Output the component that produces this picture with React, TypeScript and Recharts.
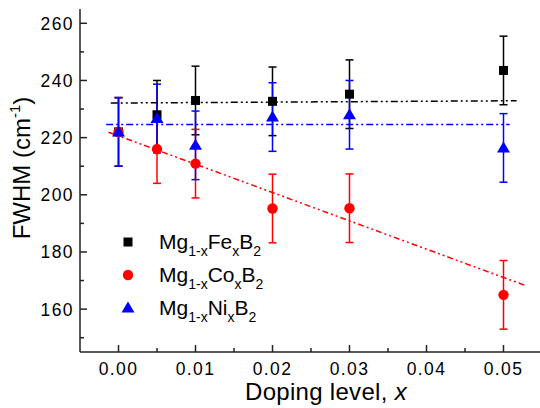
import React from 'react';
import {
  ComposedChart,
  Scatter,
  Line,
  XAxis,
  YAxis,
  ErrorBar,
  Legend,
} from 'recharts';

// doping level x and measured FWHM (cm^-1)
const doping = [0, 0.005, 0.01, 0.02, 0.03, 0.05];
const feFwhm = [222, 228, 233, 232.7, 235.2, 243.5];
const feErr = [12, 12, 12, 12, 12, 12];
const coFwhm = [222, 216, 210.9, 195.2, 195.3, 165];
const coErr = [12, 12, 12, 12, 12, 12];
const niFwhm = [222, 226.7, 217.3, 227.2, 228, 216.4];
const niErr = [12, 12, 12, 12, 12, 12];

// linear fits (end points)
const feFitX = [-0.001, 0.0517];
const feFitY = [232.1, 232.9];
const coFitX = [-0.0013, 0.0527];
const coFitY = [221.9, 168.4];
const niFitX = [-0.0016, 0.0508];
const niFitY = [224.6, 224.6];

const xTicks = [0, 0.005, 0.01, 0.015, 0.02, 0.025, 0.03, 0.035, 0.04, 0.045, 0.05, 0.055];
const yTicks = [150, 160, 170, 180, 190, 200, 210, 220, 230, 240, 250, 260];

const FONT = '"Liberation Sans", Arial, sans-serif';
const AXIS = '#222';
const BLACK = '#000000';
const RED = '#ff0000';
const BLUE = '#0000ff';

const toPoints = (xs: number[], ys: number[], es?: number[]) =>
  xs.map((x, i) => ({ x, y: ys[i], err: es ? es[i] : 0 }));

const feData = toPoints(doping, feFwhm, feErr);
const coData = toPoints(doping, coFwhm, coErr);
const niData = toPoints(doping, niFwhm, niErr);
const feFit = toPoints(feFitX, feFitY);
const coFit = toPoints(coFitX, coFitY);
const niFit = toPoints(niFitX, niFitY);

const isMajorX = (v: number) => Math.abs(v * 100 - Math.round(v * 100)) < 1e-6;
const isMajorY = (v: number) => v % 20 === 0;

const labelStyle = { fontFamily: FONT, fontSize: 17.5, letterSpacing: 1.4, fill: '#000' };

function BottomTick({ x, y, payload }: any) {
  const major = isMajorX(payload.value);
  return (
    <g>
      <line x1={x} y1={y} x2={x} y2={y - (major ? 7 : 4)} stroke={AXIS} strokeWidth={1.5} />
      {major && (
        <text x={x} y={y + 22.5} textAnchor="middle" {...labelStyle}>
          {payload.value.toFixed(2)}
        </text>
      )}
    </g>
  );
}

function TopTick({ x, y, payload }: any) {
  const major = isMajorX(payload.value);
  return <line x1={x} y1={y} x2={x} y2={y + (major ? 7 : 4)} stroke={AXIS} strokeWidth={1.5} />;
}

function LeftTick({ x, y, payload }: any) {
  const major = isMajorY(payload.value);
  return (
    <g>
      <line x1={x} y1={y} x2={x + (major ? 7 : 4)} y2={y} stroke={AXIS} strokeWidth={1.5} />
      {major && (
        <text x={x - 6} y={y + 6.5} textAnchor="end" {...labelStyle}>
          {payload.value}
        </text>
      )}
    </g>
  );
}

function RightTick({ x, y, payload }: any) {
  const major = isMajorY(payload.value);
  return <line x1={x} y1={y} x2={x - (major ? 7 : 4)} y2={y} stroke={AXIS} strokeWidth={1.5} />;
}

function XTitle() {
  return (
    <text x={245} y={400} fontFamily={FONT} fontSize={24} letterSpacing={0.3} fill="#000">
      Doping level, <tspan fontStyle="italic">x</tspan>
    </text>
  );
}

function YTitle() {
  return (
    <text
      transform="translate(30,168) rotate(-90)"
      textAnchor="middle"
      fontFamily={FONT}
      fontSize={24}
      fill="#000"
    >
      FWHM (cm<tspan dy={-10} fontSize={15}>-1</tspan>
      <tspan dy={10}>)</tspan>
    </text>
  );
}

const Square = ({ cx, cy }: any) => <rect x={cx - 4.5} y={cy - 4.5} width={9} height={9} fill={BLACK} />;
const Dot = ({ cx, cy }: any) => <circle cx={cx} cy={cy} r={5.2} fill={RED} />;
const Tri = ({ cx, cy }: any) => (
  <polygon points={`${cx},${cy - 6.5} ${cx - 6.5},${cy + 4.5} ${cx + 6.5},${cy + 4.5}`} fill={BLUE} />
);

function Formula({ y, metal }: { y: number; metal: string }) {
  return (
    <text x={49} y={y} fontFamily={FONT} fontSize={21} fill="#000">
      Mg<tspan fontSize={14} dy={7}>1-x</tspan>
      <tspan dy={-7}>{metal}</tspan>
      <tspan fontSize={14} dy={7}>x</tspan>
      <tspan dy={-7}>B</tspan>
      <tspan fontSize={14} dy={7}>2</tspan>
    </text>
  );
}

function LegendBox() {
  return (
    <svg width={180} height={110}>
      <rect x={13.5} y={15.5} width={9} height={9} fill={BLACK} />
      <Formula y={27} metal="Fe" />
      <circle cx={18} cy={53} r={5.2} fill={RED} />
      <Formula y={60} metal="Co" />
      <polygon points="18,79.5 11.5,90.5 24.5,90.5" fill={BLUE} />
      <Formula y={93} metal="Ni" />
    </svg>
  );
}

export default function App() {
  return (
    <div style={{ position: 'absolute', left: 0, top: 0, width: 540, height: 408, overflow: 'hidden', background: '#fff' }}>
      <ComposedChart width={560} height={408} margin={{ top: 9, right: 18, bottom: 0, left: 0 }}>
        <XAxis
          xAxisId="b"
          type="number"
          dataKey="x"
          domain={[-0.005, 0.055]}
          allowDataOverflow
          ticks={xTicks}
          tick={<BottomTick />}
          tickLine={false}
          tickSize={0}
          tickMargin={0}
          height={56}
          axisLine={{ stroke: AXIS, strokeWidth: 1.5 }}
          label={<XTitle />}
        />
        <XAxis
          xAxisId="t"
          orientation="top"
          type="number"
          dataKey="x"
          domain={[-0.005, 0.055]}
          allowDataOverflow
          ticks={xTicks}
          tick={<TopTick />}
          tickLine={false}
          tickSize={0}
          tickMargin={0}
          height={0}
          axisLine={{ stroke: AXIS, strokeWidth: 1.5 }}
        />
        <YAxis
          yAxisId="l"
          type="number"
          dataKey="y"
          domain={[145, 265]}
          allowDataOverflow
          ticks={yTicks}
          tick={<LeftTick />}
          tickLine={false}
          tickSize={0}
          tickMargin={0}
          width={80}
          axisLine={{ stroke: AXIS, strokeWidth: 1.5 }}
          label={<YTitle />}
        />
        <YAxis
          yAxisId="r"
          orientation="right"
          type="number"
          dataKey="y"
          domain={[145, 265]}
          allowDataOverflow
          ticks={yTicks}
          tick={<RightTick />}
          tickLine={false}
          tickSize={0}
          tickMargin={0}
          width={0}
          axisLine={{ stroke: AXIS, strokeWidth: 1.5 }}
        />
        <Scatter xAxisId="b" yAxisId="l" data={feData} dataKey="y" shape={<Square />} isAnimationActive={false}>
          <ErrorBar dataKey="err" direction="y" width={4} stroke={BLACK} strokeWidth={1.5} />
        </Scatter>
        <Scatter xAxisId="b" yAxisId="l" data={coData} dataKey="y" shape={<Dot />} isAnimationActive={false}>
          <ErrorBar dataKey="err" direction="y" width={4} stroke={RED} strokeWidth={1.5} />
        </Scatter>
        <Scatter xAxisId="b" yAxisId="l" data={niData} dataKey="y" shape={<Tri />} isAnimationActive={false}>
          <ErrorBar dataKey="err" direction="y" width={4} stroke={BLUE} strokeWidth={1.5} />
        </Scatter>
        <Line xAxisId="b" yAxisId="l" data={feFit} dataKey="y" stroke={BLACK} strokeWidth={1.5}
          strokeDasharray="7 3 2 3 2 3" dot={false} isAnimationActive={false} />
        <Line xAxisId="b" yAxisId="l" data={coFit} dataKey="y" stroke={RED} strokeWidth={1.5}
          strokeDasharray="6 3 2 3 2 3" dot={false} isAnimationActive={false} />
        <Line xAxisId="b" yAxisId="l" data={niFit} dataKey="y" stroke={BLUE} strokeWidth={1.5}
          strokeDasharray="7 3 2 3 2 3" dot={false} isAnimationActive={false} />
        <Legend
          layout="vertical"
          align="center"
          verticalAlign="middle"
          wrapperStyle={{ left: 110, top: 222, width: 180, height: 110 }}
          content={() => <LegendBox />}
        />
      </ComposedChart>
    </div>
  );
}
